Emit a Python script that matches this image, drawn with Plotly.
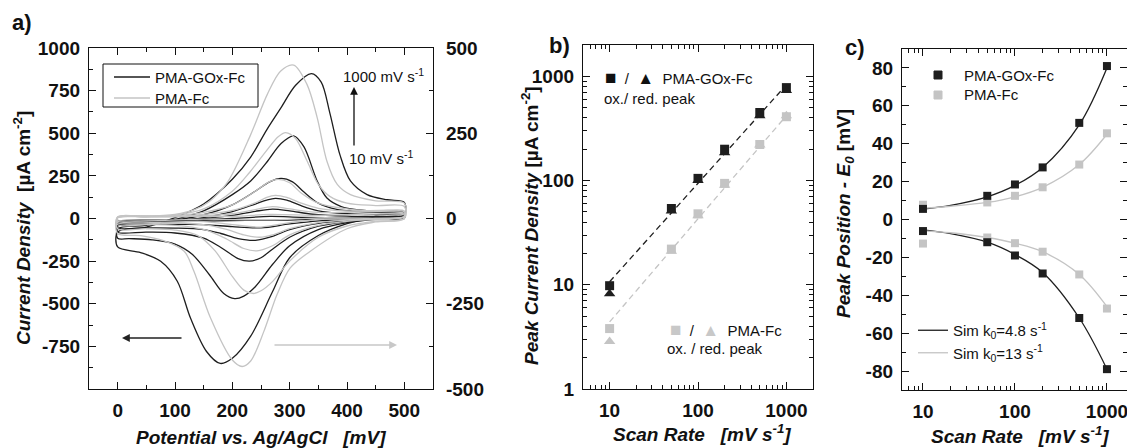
import plotly.graph_objects as go

W, H = 1127, 448
FONT = "Liberation Sans, Arial, Helvetica, sans-serif"
BLACK = "#1e1e1e"
GRAY = "#c4c4c4"


def px(x):
    return x / W


def py(y):
    return 1 - y / H


# ---------------- Panel a: cyclic voltammograms (E in mV) ----------------
# PMA-GOx-Fc, current density on left axis [uA cm-2]; forward scan then reverse scan
gox_1000_E = [0, 50, 100, 150, 200, 232, 260, 285, 310, 338, 355, 370, 388, 406, 435, 470, 500,
              500, 470, 440, 400, 350, 300, 270, 232, 200, 179, 155, 127, 104, 75, 40, 0, 0]
gox_1000_j = [-80, -50, 5, 85, 230, 360, 520, 650, 780, 850, 800, 620, 370, 220, 140, 110, 95,
              20, 10, 0, -30, -100, -230, -430, -690, -820, -850, -780, -584, -368, -251, -200, -167, -80]
gox_500_E = [0, 50, 100, 150, 200, 232, 260, 285, 307, 325, 348, 365, 390, 420, 460, 500,
             500, 450, 400, 350, 300, 270, 240, 220, 204, 185, 160, 130, 100, 60, 20, 0, 0]
gox_500_j = [-60, -40, -5, 45, 140, 220, 330, 440, 485, 420, 220, 120, 70, 50, 42, 40,
             5, -5, -25, -65, -160, -270, -400, -455, -470, -440, -330, -210, -150, -125, -118, -116, -60]
gox_200_E = [0, 50, 100, 150, 200, 240, 265, 285, 305, 325, 350, 380, 420, 460, 500,
             500, 450, 400, 350, 300, 270, 250, 230, 210, 180, 150, 100, 50, 0, 0]
gox_200_j = [-45, -32, -10, 22, 80, 160, 215, 235, 215, 155, 90, 55, 40, 35, 32,
             5, -3, -18, -45, -110, -180, -230, -250, -235, -170, -115, -85, -80, -80, -45]
gox_100_E = [0, 50, 100, 150, 200, 240, 260, 275, 295, 320, 350, 400, 450, 500,
             500, 450, 400, 350, 300, 270, 240, 210, 180, 150, 100, 50, 0, 0]
gox_100_j = [-35, -28, -15, 5, 40, 85, 108, 118, 108, 75, 45, 28, 22, 20,
             3, -2, -12, -28, -65, -105, -128, -118, -88, -65, -56, -55, -55, -35]
gox_50_E = [0, 50, 100, 150, 200, 240, 270, 300, 340, 400, 450, 500,
            500, 450, 400, 350, 300, 250, 200, 150, 100, 50, 0, 0]
gox_50_j = [-25, -20, -12, 0, 18, 42, 55, 45, 25, 14, 11, 10,
            2, -1, -6, -14, -32, -55, -48, -36, -35, -35, -35, -25]
gox_10_E = [0, 100, 200, 265, 320, 400, 500, 500, 400, 320, 265, 200, 100, 0, 0]
gox_10_j = [-15, -10, 0, 12, 7, 3, 2, 0, -3, -7, -11, -12, -18, -20, -15]

# PMA-Fc, current density on right axis [uA cm-2]
fc_1000_E = [0, 50, 100, 133, 160, 191, 232, 261, 284, 307, 330, 348, 365, 383, 406, 450, 500,
             500, 450, 400, 336, 301, 278, 255, 232, 217, 200, 162, 133, 116, 80, 40, 0, 0]
fc_1000_j = [5, 6, 12, 25, 50, 105, 246, 364, 432, 450, 394, 296, 168, 100, 70, 52, 45,
             0, -10, -30, -96, -145, -223, -331, -418, -434, -415, -292, -155, -96, -65, -50, -44, 5]
fc_500_E = [0, 50, 100, 150, 200, 230, 260, 280, 293, 310, 330, 350, 370, 400, 450, 500,
            500, 450, 400, 350, 300, 270, 250, 237, 220, 200, 170, 140, 100, 50, 0, 0]
fc_500_j = [4, 5, 10, 28, 80, 135, 200, 240, 252, 235, 170, 100, 65, 45, 38, 35,
            0, -8, -22, -55, -125, -185, -212, -220, -210, -170, -95, -50, -34, -30, -30, 4]
fc_200_E = [0, 50, 100, 150, 200, 240, 265, 280, 300, 320, 350, 400, 450, 500,
            500, 450, 400, 350, 300, 270, 243, 220, 190, 150, 100, 50, 0, 0]
fc_200_j = [3, 4, 8, 18, 40, 80, 108, 115, 105, 75, 45, 28, 22, 22,
            5, 0, -8, -20, -48, -80, -95, -88, -60, -32, -20, -18, -18, 3]
fc_100_E = [0, 100, 150, 200, 240, 260, 275, 295, 320, 350, 400, 500,
            500, 400, 350, 300, 270, 248, 220, 190, 150, 100, 0, 0]
fc_100_j = [3, 6, 12, 24, 46, 62, 68, 62, 45, 30, 22, 20,
            5, -5, -12, -30, -48, -55, -48, -32, -18, -13, -12, 3]
fc_50_E = [0, 100, 200, 240, 270, 300, 350, 500, 500, 350, 300, 250, 200, 150, 0, 0]
fc_50_j = [2, 5, 14, 26, 35, 28, 18, 15, 5, -3, -12, -25, -18, -9, -8, 2]
fc_10_E = [0, 200, 265, 350, 500, 500, 350, 265, 150, 0, 0]
fc_10_j = [2, 6, 12, 9, 10, 5, 2, -4, -2, -4, 2]

# ---------------- Panel b: peak current density vs scan rate ----------------
scan_rate = [10, 50, 100, 200, 500, 1000]
gox_ox_peak = [9.8, 54, 105, 200, 450, 780]
gox_red_peak = [8.2, 51, 100, 185, 420, 730]
fc_ox_peak = [3.8, 22, 48, 94, 222, 410]
fc_red_peak = [2.85, 21, 46, 90, 220, 420]
fit_rate = [10, 1000]
gox_fit = [10.7, 830]
fc_fit = [4.4, 420]

# ---------------- Panel c: peak position vs scan rate ----------------
gox_pos_ox = [5.6, 12.5, 18.5, 27.5, 51, 81]
gox_pos_red = [-6.1, -12, -19, -28.5, -52, -79]
fc_pos_ox = [7.8, 9, 12.5, 17, 29, 45.5]
fc_pos_red = [-12.7, -9.5, -12.5, -17, -29, -47]
sim_rate = [10, 20, 50, 100, 200, 500, 1000]
sim_gox_ox = [5.5, 7.5, 12, 18, 27.5, 50, 80]
sim_gox_red = [-5.5, -7.5, -12, -18.5, -28, -52, -79]
sim_fc_ox = [6, 7, 9, 12, 17, 29, 45]
sim_fc_red = [-6, -7, -9.5, -12.5, -17, -29, -46]

fig = go.Figure()

# ---- panel a traces
gox_curves = [(gox_10_E, gox_10_j), (gox_50_E, gox_50_j), (gox_100_E, gox_100_j),
              (gox_200_E, gox_200_j), (gox_500_E, gox_500_j), (gox_1000_E, gox_1000_j)]
fc_curves = [(fc_10_E, fc_10_j), (fc_50_E, fc_50_j), (fc_100_E, fc_100_j),
             (fc_200_E, fc_200_j), (fc_500_E, fc_500_j), (fc_1000_E, fc_1000_j)]
for e, j in fc_curves:
    fig.add_trace(go.Scatter(x=e, y=j, mode="lines", xaxis="x", yaxis="y2",
                             line=dict(color=GRAY, width=1.3, shape="spline", smoothing=0.9),
                             name="PMA-Fc", showlegend=False, hoverinfo="skip"))
for e, j in gox_curves:
    fig.add_trace(go.Scatter(x=e, y=j, mode="lines", xaxis="x", yaxis="y",
                             line=dict(color=BLACK, width=1.3, shape="spline", smoothing=0.9),
                             name="PMA-GOx-Fc", showlegend=False, hoverinfo="skip"))

# ---- panel b traces
fig.add_trace(go.Scatter(x=fit_rate, y=gox_fit, mode="lines", xaxis="x2", yaxis="y3",
                         line=dict(color=BLACK, width=1.3, dash="6px,4px"), showlegend=False))
fig.add_trace(go.Scatter(x=fit_rate, y=fc_fit, mode="lines", xaxis="x2", yaxis="y3",
                         line=dict(color=GRAY, width=1.3, dash="6px,4px"), showlegend=False))
for yv, sym, col in [(fc_ox_peak, "square", GRAY), (fc_red_peak, "triangle-up", GRAY),
                     (gox_ox_peak, "square", BLACK), (gox_red_peak, "triangle-up", BLACK)]:
    fig.add_trace(go.Scatter(x=scan_rate, y=yv, mode="markers", xaxis="x2", yaxis="y3",
                             marker=dict(symbol=sym, size=9 if sym == "square" else 10, color=col,
                                         line=dict(width=0)),
                             showlegend=False))

# ---- panel c traces
fig.add_trace(go.Scatter(x=sim_rate, y=sim_gox_ox, mode="lines", xaxis="x3", yaxis="y4",
                         line=dict(color=BLACK, width=1.3, shape="spline"),
                         name="Sim k<sub>0</sub>=4.8 s<sup>-1</sup>", legend="legend3", legendrank=1))
fig.add_trace(go.Scatter(x=sim_rate, y=sim_gox_red, mode="lines", xaxis="x3", yaxis="y4",
                         line=dict(color=BLACK, width=1.3, shape="spline"), showlegend=False))
fig.add_trace(go.Scatter(x=sim_rate, y=sim_fc_ox, mode="lines", xaxis="x3", yaxis="y4",
                         line=dict(color=GRAY, width=1.3, shape="spline"),
                         name="Sim k<sub>0</sub>=13 s<sup>-1</sup>", legend="legend3", legendrank=2))
fig.add_trace(go.Scatter(x=sim_rate, y=sim_fc_red, mode="lines", xaxis="x3", yaxis="y4",
                         line=dict(color=GRAY, width=1.3, shape="spline"), showlegend=False))
fig.add_trace(go.Scatter(x=scan_rate, y=fc_pos_ox, mode="markers", xaxis="x3", yaxis="y4",
                         marker=dict(symbol="square", size=8, color=GRAY), showlegend=False))
fig.add_trace(go.Scatter(x=scan_rate, y=fc_pos_red, mode="markers", xaxis="x3", yaxis="y4",
                         marker=dict(symbol="square", size=8, color=GRAY), showlegend=False))
fig.add_trace(go.Scatter(x=scan_rate, y=gox_pos_ox, mode="markers", xaxis="x3", yaxis="y4",
                         marker=dict(symbol="square", size=8, color=BLACK), showlegend=False))
fig.add_trace(go.Scatter(x=scan_rate, y=gox_pos_red, mode="markers", xaxis="x3", yaxis="y4",
                         marker=dict(symbol="square", size=8, color=BLACK), showlegend=False))

tickfont = dict(family=FONT, size=19, color="#111", weight="bold")
axis_common = dict(showline=True, linecolor="#111", linewidth=1.3, ticks="inside", ticklen=7,
                   tickwidth=1.2, tickcolor="#111", showgrid=False, zeroline=False,
                   tickfont=tickfont, automargin=False)


def minor(vals):
    return dict(ticks="inside", ticklen=4, tickwidth=1.1, tickcolor="#111",
                tickmode="array", tickvals=vals, showgrid=False)


def log_minor(lo, hi):
    vals = []
    for d in range(lo, hi):
        for m in range(2, 10):
            vals.append(m * 10 ** d)
    return vals


left_vals = [-750, -500, -250, 0, 250, 500, 750, 1000]
right_vals = [-500, -250, 0, 250, 500]

fig.update_layout(
    width=W, height=H, margin=dict(l=0, r=0, t=0, b=0, autoexpand=False),
    paper_bgcolor="white", plot_bgcolor="white",
    font=dict(family=FONT, size=15, color="#111"),
    xaxis=dict(axis_common, domain=[px(89), px(433)], range=[-50, 550], anchor="y",
               tickmode="array", tickvals=[0, 100, 200, 300, 400, 500], mirror="ticks",
               minor=minor([50, 150, 250, 350, 450]), ticklabelstandoff=4),
    yaxis=dict(axis_common, domain=[py(389), py(48)], range=[-1000, 1000], anchor="x",
               tickmode="array", tickvals=left_vals, ticktext=[str(v) for v in left_vals],
               minor=minor([-875, -625, -375, -125, 125, 375, 625, 875, -1000]),
               ticklabelstandoff=4),
    yaxis2=dict(axis_common, overlaying="y", side="right", anchor="x", range=[-500, 500],
                tickmode="array", tickvals=right_vals, ticktext=[str(v) for v in right_vals],
                minor=minor([-375, -125, 125, 375]), ticklabelstandoff=8),
    xaxis2=dict(axis_common, domain=[px(583), px(813)], type="log", range=[0.699, 3.301],
                anchor="y3", tickmode="array", tickvals=[10, 100, 1000], mirror="ticks",
                minor=minor(log_minor(0, 4)), ticklabelstandoff=4),
    yaxis3=dict(axis_common, domain=[py(389), py(45)], type="log", range=[0, 3.301],
                anchor="x2", tickmode="array", tickvals=[1, 10, 100, 1000], mirror="ticks",
                minor=minor(log_minor(0, 4)), ticklabelstandoff=4),
    xaxis3=dict(axis_common, domain=[px(902), 1.0], type="log", range=[0.772, 3.218],
                anchor="y4", tickmode="array", tickvals=[10, 100, 1000], mirror="ticks",
                minor=minor(log_minor(0, 4)), ticklabelstandoff=4, ticklabeloverflow="allow"),
    yaxis4=dict(axis_common, domain=[py(390), py(49)], range=[-90, 90], anchor="x3",
                tickmode="array", tickvals=[-80, -60, -40, -20, 0, 20, 40, 60, 80],
                ticktext=["-80", "-60", "-40", "-20", "0", "20", "40", "60", "80"], mirror="ticks",
                minor=minor([-70, -50, -30, -10, 10, 30, 50, 70]), ticklabelstandoff=4),
    legend3=dict(x=px(913), y=py(314), xanchor="left", yanchor="top", bgcolor="rgba(0,0,0,0)",
                 font=dict(size=15, color="#111")),
)

ann = []
shapes = []


def text(x, y, t, size=15, angle=0, xanchor="center", color="#111"):
    ann.append(dict(x=px(x), y=py(y), xref="paper", yref="paper", text=t, showarrow=False,
                    textangle=angle, xanchor=xanchor, yanchor="middle",
                    font=dict(family=FONT, size=size, color=color)))


def arrow(xh, yh, xt, yt, color):
    ann.append(dict(x=px(xh), y=py(yh), xref="paper", yref="paper", text="", showarrow=True,
                    ax=xt - xh, ay=yt - yh, arrowhead=2, arrowsize=1.2, arrowwidth=1.3,
                    arrowcolor=color))


def seg(x0, y0, x1, y1, color, width=1.3):
    shapes.append(dict(type="line", xref="paper", yref="paper", x0=px(x0), y0=py(y0),
                       x1=px(x1), y1=py(y1), line=dict(color=color, width=width)))


def box(x0, y0, x1, y1, line_color, fill=None):
    shapes.append(dict(type="rect", xref="paper", yref="paper", x0=px(x0), y0=py(y0),
                       x1=px(x1), y1=py(y1), line=dict(color=line_color, width=1),
                       fillcolor=fill if fill else "rgba(0,0,0,0)"))


# panel labels
text(22, 23, "<b>a)</b>", size=22)
text(559, 45, "<b>b)</b>", size=22)
text(855, 47, "<b>c)</b>", size=22)

# axis titles
text(22, 228, "<b><i>Current Density</i>  [µA cm<sup>-2</sup>]</b>", size=19, angle=-90)
text(261, 437, "<b><i>Potential vs. Ag/AgCl   [mV]</i></b>", size=19)
text(530, 226, "<b><i>Peak Current Density</i> [µA cm<sup>-2</sup>]</b>", size=19, angle=-90)
text(702, 433, "<b><i>Scan Rate   [mV s<sup>-1</sup>]</i></b>", size=19)
text(845, 214, "<b><i>Peak Position - E<sub>0</sub></i> [mV]</b>", size=19, angle=-90)
text(1020, 435, "<b><i>Scan Rate   [mV s<sup>-1</sup>]</i></b>", size=19)

# panel a legend (framed)
box(103, 64, 258, 107, "#111", "white")
seg(114, 77, 150, 77, BLACK)
seg(114, 98, 150, 98, GRAY)
text(153, 77, "PMA-GOx-Fc", xanchor="left")
text(153, 98, "PMA-Fc", xanchor="left")

# panel a annotations
text(383, 75, "1000 mV s<sup>-1</sup>")
text(381, 157, "10 mV s<sup>-1</sup>")
arrow(354, 87, 354, 147, "#111")
arrow(122, 338, 183, 338, "#222")
arrow(397, 345, 273, 345, "#c8c8c8")

# panel b annotations
text(603, 78, "<span style='font-size:19px'>■</span>  /  <span style='font-size:17px'>▲</span>  PMA-GOx-Fc",
     xanchor="left")
text(602, 98, "ox./ red. peak", xanchor="left")
text(668, 329, "<span style='color:#c8c8c8;font-size:19px'>■</span>  /  "
               "<span style='color:#c8c8c8;font-size:17px'>▲</span>  PMA-Fc", xanchor="left")
text(665, 348, "ox. / red. peak", xanchor="left")

# panel c marker legend
box(934, 71, 942, 79, BLACK, BLACK)
box(934, 91, 942, 99, GRAY, GRAY)
text(962, 75, "PMA-GOx-Fc", xanchor="left")
text(962, 95, "PMA-Fc", xanchor="left")

fig.update_layout(annotations=ann, shapes=shapes)
fig.write_html("out.html", config={"displayModeBar": False},
               post_script="document.body.style.margin='0';document.body.style.overflow='hidden';")
